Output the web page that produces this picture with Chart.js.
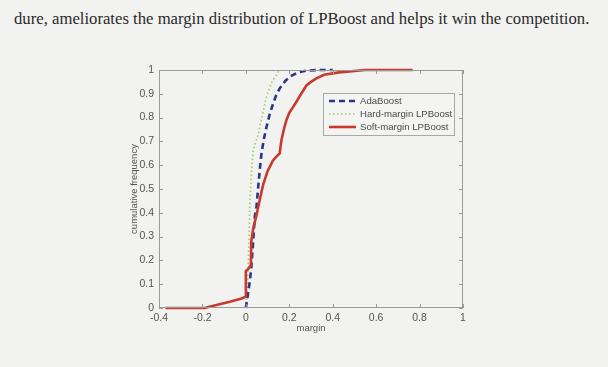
<!DOCTYPE html>
<html>
<head>
<meta charset="utf-8">
<script src="https://cdn.jsdelivr.net/npm/chart.js@4/dist/chart.umd.min.js"></script>
<style>
  html, body { margin: 0; padding: 0; background: #f2f2f0; }
  #wrap { position: relative; width: 608px; height: 367px; overflow: hidden; }
  #caption {
    position: absolute; left: 14px; top: 9px; white-space: nowrap;
    font-family: "Liberation Serif", "DejaVu Serif", serif; font-size: 16.7px; color: #2a2a2a;
  }
  #chart { position: absolute; left: 0; top: 0; }
</style>
</head>
<body>
<div id="wrap">
  <div id="caption">dure, ameliorates the margin distribution of LPBoost and helps it win the competition.</div>
  <canvas id="chart" width="608" height="367"></canvas>
</div>
<script>
// values
const seriesNames = ['AdaBoost', 'Hard-margin LPBoost', 'Soft-margin LPBoost'];

const adaMargin = [0.0, 0.01, 0.019, 0.026, 0.031, 0.036, 0.041, 0.049, 0.056, 0.064, 0.072, 0.083, 0.095, 0.11, 0.126, 0.14, 0.156, 0.18, 0.202, 0.24, 0.279, 0.33, 0.4];
const adaFreq   = [0, 0.06, 0.118, 0.18, 0.244, 0.31, 0.384, 0.426, 0.5, 0.58, 0.65, 0.71, 0.76, 0.815, 0.86, 0.895, 0.923, 0.952, 0.972, 0.99, 0.997, 1.0, 1.0];

const hardMargin = [0.0, 0.006, 0.011, 0.015, 0.018, 0.022, 0.026, 0.03, 0.034, 0.042, 0.05, 0.057, 0.068, 0.08, 0.09, 0.103, 0.12, 0.141, 0.155];
const hardFreq   = [0, 0.08, 0.18, 0.3, 0.426, 0.5, 0.566, 0.62, 0.664, 0.69, 0.71, 0.727, 0.78, 0.825, 0.87, 0.909, 0.95, 0.979, 1.0];

const softMargin = [-0.37, -0.19, -0.135, -0.074, -0.02, 0.0, 0.0, 0.012, 0.023, 0.025, 0.034, 0.049, 0.064, 0.08, 0.1, 0.125, 0.145, 0.156, 0.16, 0.164, 0.175, 0.187, 0.2, 0.218, 0.235, 0.248, 0.265, 0.279, 0.3, 0.325, 0.36, 0.43, 0.55, 0.768];
const softFreq   = [0, 0, 0.013, 0.026, 0.04, 0.048, 0.155, 0.165, 0.18, 0.279, 0.335, 0.39, 0.455, 0.52, 0.575, 0.62, 0.64, 0.65, 0.68, 0.706, 0.75, 0.79, 0.82, 0.845, 0.87, 0.89, 0.915, 0.935, 0.95, 0.965, 0.98, 0.99, 1.0, 1.0];

const xTicks = [-0.4, -0.2, 0, 0.2, 0.4, 0.6, 0.8, 1];
const yTicks = [0, 0.1, 0.2, 0.3, 0.4, 0.5, 0.6, 0.7, 0.8, 0.9, 1];

const toPoints = (xs, ys) => xs.map((x, i) => ({ x: x, y: ys[i] }));
const fmt = v => String(Math.round(v * 10) / 10);

const fontFamily = '"Liberation Sans", Arial, sans-serif';
const axisFont = { family: fontFamily, size: 10.5 };
const titleFont = { family: fontFamily, size: 9.5 };

// box around the plot with matlab style inward ticks
const boxTicks = {
    id: 'boxTicks',
    afterDraw(chart) {
        const { ctx, chartArea: a, scales } = chart;
        const len = 4;
        ctx.save();
        ctx.strokeStyle = '#9a9a9a';
        ctx.lineWidth = 1;
        ctx.strokeRect(a.left + 0.5, a.top + 0.5, a.right - a.left - 1, a.bottom - a.top - 1);
        ctx.beginPath();
        xTicks.forEach(v => {
            const px = Math.round(scales.x.getPixelForValue(v)) + 0.5;
            ctx.moveTo(px, a.bottom); ctx.lineTo(px, a.bottom - len);
            ctx.moveTo(px, a.top); ctx.lineTo(px, a.top + len);
        });
        yTicks.forEach(v => {
            const py = Math.round(scales.y.getPixelForValue(v)) + 0.5;
            ctx.moveTo(a.left, py); ctx.lineTo(a.left + len, py);
            ctx.moveTo(a.right, py); ctx.lineTo(a.right - len, py);
        });
        ctx.stroke();
        ctx.restore();
    }
};

// legend box inside the plot, top right
const boxLegend = {
    id: 'boxLegend',
    afterDraw(chart) {
        const { ctx, chartArea: a } = chart;
        const right = a.right - 9, top = a.top + 23, w = 131, rowH = 13;
        const left = right - w;
        ctx.save();
        ctx.fillStyle = '#f4f4f2';
        ctx.strokeStyle = '#a8a8a8';
        ctx.lineWidth = 1;
        ctx.fillRect(left, top, w, rowH * 3 + 3);
        ctx.strokeRect(left + 0.5, top + 0.5, w, rowH * 3 + 3);
        ctx.font = '9.6px ' + fontFamily;
        ctx.textBaseline = 'middle';
        seriesNames.forEach((name, i) => {
            const ds = chart.data.datasets[i];
            const y = top + 8 + i * rowH;
            ctx.beginPath();
            ctx.strokeStyle = ds.borderColor;
            ctx.lineWidth = ds.borderWidth;
            ctx.setLineDash(ds.borderDash || []);
            ctx.moveTo(left + 6, y);
            ctx.lineTo(left + 33, y);
            ctx.stroke();
            ctx.setLineDash([]);
            ctx.fillStyle = '#4a4a4a';
            ctx.fillText(name, left + 37, y);
        });
        ctx.restore();
    }
};

new Chart(document.getElementById('chart'), {
    type: 'scatter',
    data: {
        datasets: [
            {
                label: seriesNames[0],
                data: toPoints(adaMargin, adaFreq),
                showLine: true, borderColor: '#2f3585', borderWidth: 2.6,
                borderDash: [6, 4], pointRadius: 0, order: 1, clip: 6
            },
            {
                label: seriesNames[1],
                data: toPoints(hardMargin, hardFreq),
                showLine: true, borderColor: '#a2cc62', borderWidth: 1.7,
                borderDash: [1.5, 2.5], pointRadius: 0, order: 2, clip: 6
            },
            {
                label: seriesNames[2],
                data: toPoints(softMargin, softFreq),
                showLine: true, borderColor: '#c73a2c', borderWidth: 2.6,
                pointRadius: 0, order: 0, clip: 6
            }
        ]
    },
    options: {
        responsive: false,
        animation: false,
        layout: { padding: { left: 123, right: 145, top: 70, bottom: 29 } },
        plugins: { legend: { display: false }, tooltip: { enabled: false } },
        scales: {
            x: {
                type: 'linear', min: -0.4, max: 1,
                afterBuildTicks: s => { s.ticks = xTicks.map(v => ({ value: v })); },
                afterFit: s => { s.height = 30; },
                grid: { display: false, drawTicks: false },
                border: { display: false },
                ticks: { padding: 4, color: '#555', font: axisFont, callback: fmt, maxRotation: 0 },
                title: { display: true, text: 'margin', color: '#555', font: titleFont, padding: { top: 0, bottom: 4 } }
            },
            y: {
                type: 'linear', min: 0, max: 1,
                afterBuildTicks: s => { s.ticks = yTicks.map(v => ({ value: v })); },
                afterFit: s => { s.width = 36; },
                grid: { display: false, drawTicks: false },
                border: { display: false },
                ticks: { padding: 5, color: '#555', font: axisFont, callback: fmt },
                title: { display: true, text: 'cumulative frequency', color: '#555', font: titleFont, padding: { top: 6, bottom: 0 } }
            }
        }
    },
    plugins: [boxTicks, boxLegend]
});
</script>
</body>
</html>
